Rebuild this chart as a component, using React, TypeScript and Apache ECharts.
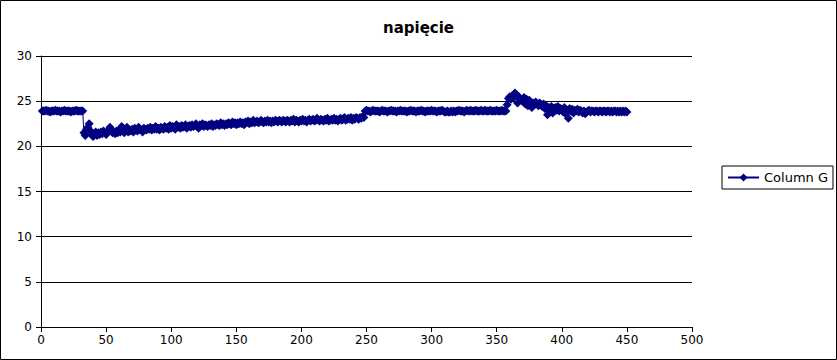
import React, { useEffect, useRef } from "react";
import * as echarts from "echarts";

const seriesName = "Column G";
const titleText = "napięcie";

// x = 1..32
const seg1: number[] = [
  23.9, 23.9, 23.9, 24.0, 23.9, 23.9, 23.8, 23.9, 23.9, 23.9,
  24.0, 23.9, 23.9, 23.9, 23.8, 23.9, 23.9, 24.0, 23.9, 23.9,
  23.9, 23.9, 23.8, 23.9, 23.9, 23.9, 24.0, 23.9, 23.9, 23.9,
  23.9, 23.9,
];
// x = 33..248
const seg2: number[] = [
  21.5, 21.2, 21.9, 22.1, 22.5, 21.7, 21.3, 21.1, 21.4, 21.6, 21.2, 21.5,
  21.3, 21.6, 21.4, 21.7, 21.5, 21.3, 21.6, 21.8, 22.1, 21.7, 21.5, 21.6,
  21.4, 21.7, 21.5, 21.8, 21.6, 22.2, 21.7, 21.5, 21.9, 22.1, 21.6, 21.8,
  21.7, 21.9, 21.6, 22.0, 21.8, 21.7, 22.1, 21.9, 21.8, 21.6, 22.0, 21.9,
  21.8, 22.0, 21.9, 22.1, 21.8, 22.0, 21.9, 22.2, 21.9, 22.0, 21.8, 22.1,
  22.0, 21.9, 22.2, 22.0, 22.1, 21.9, 22.3, 22.0, 22.2, 22.1, 21.9, 22.4,
  22.1, 22.2, 22.0, 22.3, 22.1, 22.2, 22.4, 22.0, 22.2, 22.3, 22.1, 22.4,
  22.2, 22.3, 22.5, 22.2, 22.0, 22.4, 22.3, 22.5, 22.2, 22.4, 22.3, 22.2,
  22.4, 22.3, 22.5, 22.2, 22.4, 22.3, 22.5, 22.4, 22.3, 22.6, 22.4, 22.5,
  22.3, 22.5, 22.4, 22.6, 22.5, 22.4, 22.7, 22.5, 22.6, 22.4, 22.6, 22.5,
  22.7, 22.5, 22.6, 22.4, 22.7, 22.6, 22.8, 22.5, 22.7, 22.6, 22.9, 22.6,
  22.7, 22.8, 22.6, 22.7, 22.9, 22.7, 22.6, 22.8, 22.7, 22.9, 22.7, 22.8,
  22.6, 22.8, 22.7, 22.9, 22.8, 22.7, 22.9, 22.8, 22.7, 22.9, 22.8, 22.7,
  22.9, 22.8, 22.7, 22.9, 22.8, 23.0, 22.7, 22.9, 22.8, 22.7, 22.9, 22.8,
  23.0, 22.8, 22.9, 22.7, 22.9, 23.0, 22.8, 22.9, 23.0, 22.8, 22.9, 23.1,
  22.9, 22.8, 23.0, 22.9, 22.8, 23.0, 22.9, 23.1, 22.8, 22.9, 23.0, 22.9,
  23.1, 22.9, 23.0, 22.8, 23.0, 23.1, 22.9, 23.0, 23.2, 22.9, 23.0, 23.1,
  23.0, 23.2, 22.9, 23.1, 23.0, 23.2, 23.1, 23.0, 23.2, 23.1, 23.3, 23.2,
];
// x = 249..357
const seg3: number[] = [
  23.9, 24.0, 23.9, 23.9, 23.8, 23.9, 24.0, 23.9, 23.9, 23.9,
  23.9, 23.8, 23.9, 24.0, 23.9, 23.9, 23.9, 23.8, 23.9, 23.9,
  24.0, 23.9, 23.9, 23.9, 23.8, 23.9, 23.9, 24.0, 23.9, 23.9,
  23.9, 23.9, 23.8, 23.9, 23.9, 24.0, 23.9, 23.9, 23.9, 23.8,
  23.9, 23.9, 23.9, 24.0, 23.9, 23.9, 23.8, 23.9, 23.9, 23.9,
  23.9, 24.0, 23.9, 23.9, 23.9, 23.8, 23.9, 23.9, 23.9, 24.0,
  23.9, 23.8, 23.8, 23.9, 23.8, 23.8, 23.9, 23.8, 23.9, 23.8,
  23.9, 23.9, 24.0, 23.9, 23.9, 23.9, 23.8, 23.9, 24.0, 23.9,
  23.9, 24.0, 23.9, 23.9, 23.9, 24.0, 23.9, 23.9, 23.9, 24.0,
  23.9, 23.9, 24.0, 23.9, 23.9, 23.9, 24.0, 23.9, 23.9, 23.9,
  23.9, 24.0, 23.9, 23.9, 23.9, 24.0, 23.9, 23.9, 23.9,
];
// x = 358..450
const seg4: number[] = [
  24.6, 25.3, 25.5, 25.2, 25.6, 25.4, 25.9, 25.7, 24.8, 25.5,
  25.3, 25.1, 25.0, 25.4, 24.7, 25.2, 24.5, 25.1, 24.9, 24.3,
  24.8, 24.6, 24.9, 24.7, 24.5, 24.8, 24.6, 24.4, 24.7, 24.2,
  24.5, 23.5, 24.3, 24.1, 24.4, 23.7, 24.2, 24.3, 24.0, 24.4,
  23.9, 24.2, 24.1, 23.8, 24.3, 23.6, 24.0, 23.1, 24.2, 23.9,
  24.1, 23.7, 24.0, 23.9, 24.1, 23.8, 24.0, 23.9, 23.7, 23.9,
  23.6, 23.8, 23.9, 24.0, 23.8, 23.9, 23.9, 23.8, 23.9, 23.9,
  23.8, 23.9, 23.9, 23.8, 23.9, 23.9, 23.8, 23.9, 23.9, 23.8,
  23.9, 23.8, 23.9, 23.9, 23.8, 23.9, 23.8, 23.9, 23.8, 23.9,
  23.8, 23.9, 23.8,
];

const xMin = 0;
const xMax = 500;
const xStep = 50;
const yMin = 0;
const yMax = 30;
const yStep = 5;

export default function App() {
  const ref = useRef<HTMLDivElement>(null);
  useEffect(() => {
    document.body.style.margin = "0";
    if (!ref.current) return;
    const chart = echarts.init(ref.current, null, { renderer: "svg" });
    const values = [...seg1, ...seg2, ...seg3, ...seg4];
    const data = values.map((v, i) => [i + 1, v]);
    const font = "DejaVu Sans";
    chart.setOption({
      animation: false,
      backgroundColor: "#ffffff",
      textStyle: { fontFamily: font },
      title: {
        text: titleText,
        left: "center",
        top: 15,
        textStyle: { fontFamily: font, fontSize: 15, fontWeight: "bold", color: "#000" },
      },
      grid: { left: 41, right: 145, top: 56, bottom: 33, containLabel: false },
      legend: {
        orient: "vertical",
        left: 722,
        top: 166,
        padding: [5, 5, 5, 5],
        borderColor: "#000",
        borderWidth: 1,
        itemWidth: 31,
        itemHeight: 10,
        itemGap: 4,
        textStyle: { fontFamily: font, fontSize: 13, color: "#000" },
        data: [seriesName],
      },
      xAxis: {
        type: "value",
        min: xMin,
        max: xMax,
        interval: xStep,
        axisLine: { show: true, lineStyle: { color: "#000", width: 1 } },
        axisTick: { show: true, length: 5, lineStyle: { color: "#000" } },
        axisLabel: { color: "#000", fontSize: 12, fontFamily: font, margin: 7 },
        splitLine: { show: false },
      },
      yAxis: {
        type: "value",
        min: yMin,
        max: yMax,
        interval: yStep,
        axisLine: { show: true, lineStyle: { color: "#000", width: 1 } },
        axisTick: { show: true, length: 5, lineStyle: { color: "#000" } },
        axisLabel: { color: "#000", fontSize: 12, fontFamily: font, margin: 9 },
        splitLine: { show: true, lineStyle: { color: "#000", width: 1 } },
      },
      graphic: [
        {
          type: "rect",
          shape: { x: 0.5, y: 0.5, width: 836, height: 359 },
          style: { fill: "none", stroke: "#000", lineWidth: 1 },
          silent: true,
        },
      ],
      series: [
        {
          name: seriesName,
          type: "line",
          data,
          symbol: "diamond",
          symbolSize: 9,
          showAllSymbol: true,
          itemStyle: { color: "#000080" },
          lineStyle: { color: "#000080", width: 1 },
        },
      ],
    });
    return () => chart.dispose();
  }, []);
  return <div ref={ref} style={{ width: 837, height: 360 }} />;
}
